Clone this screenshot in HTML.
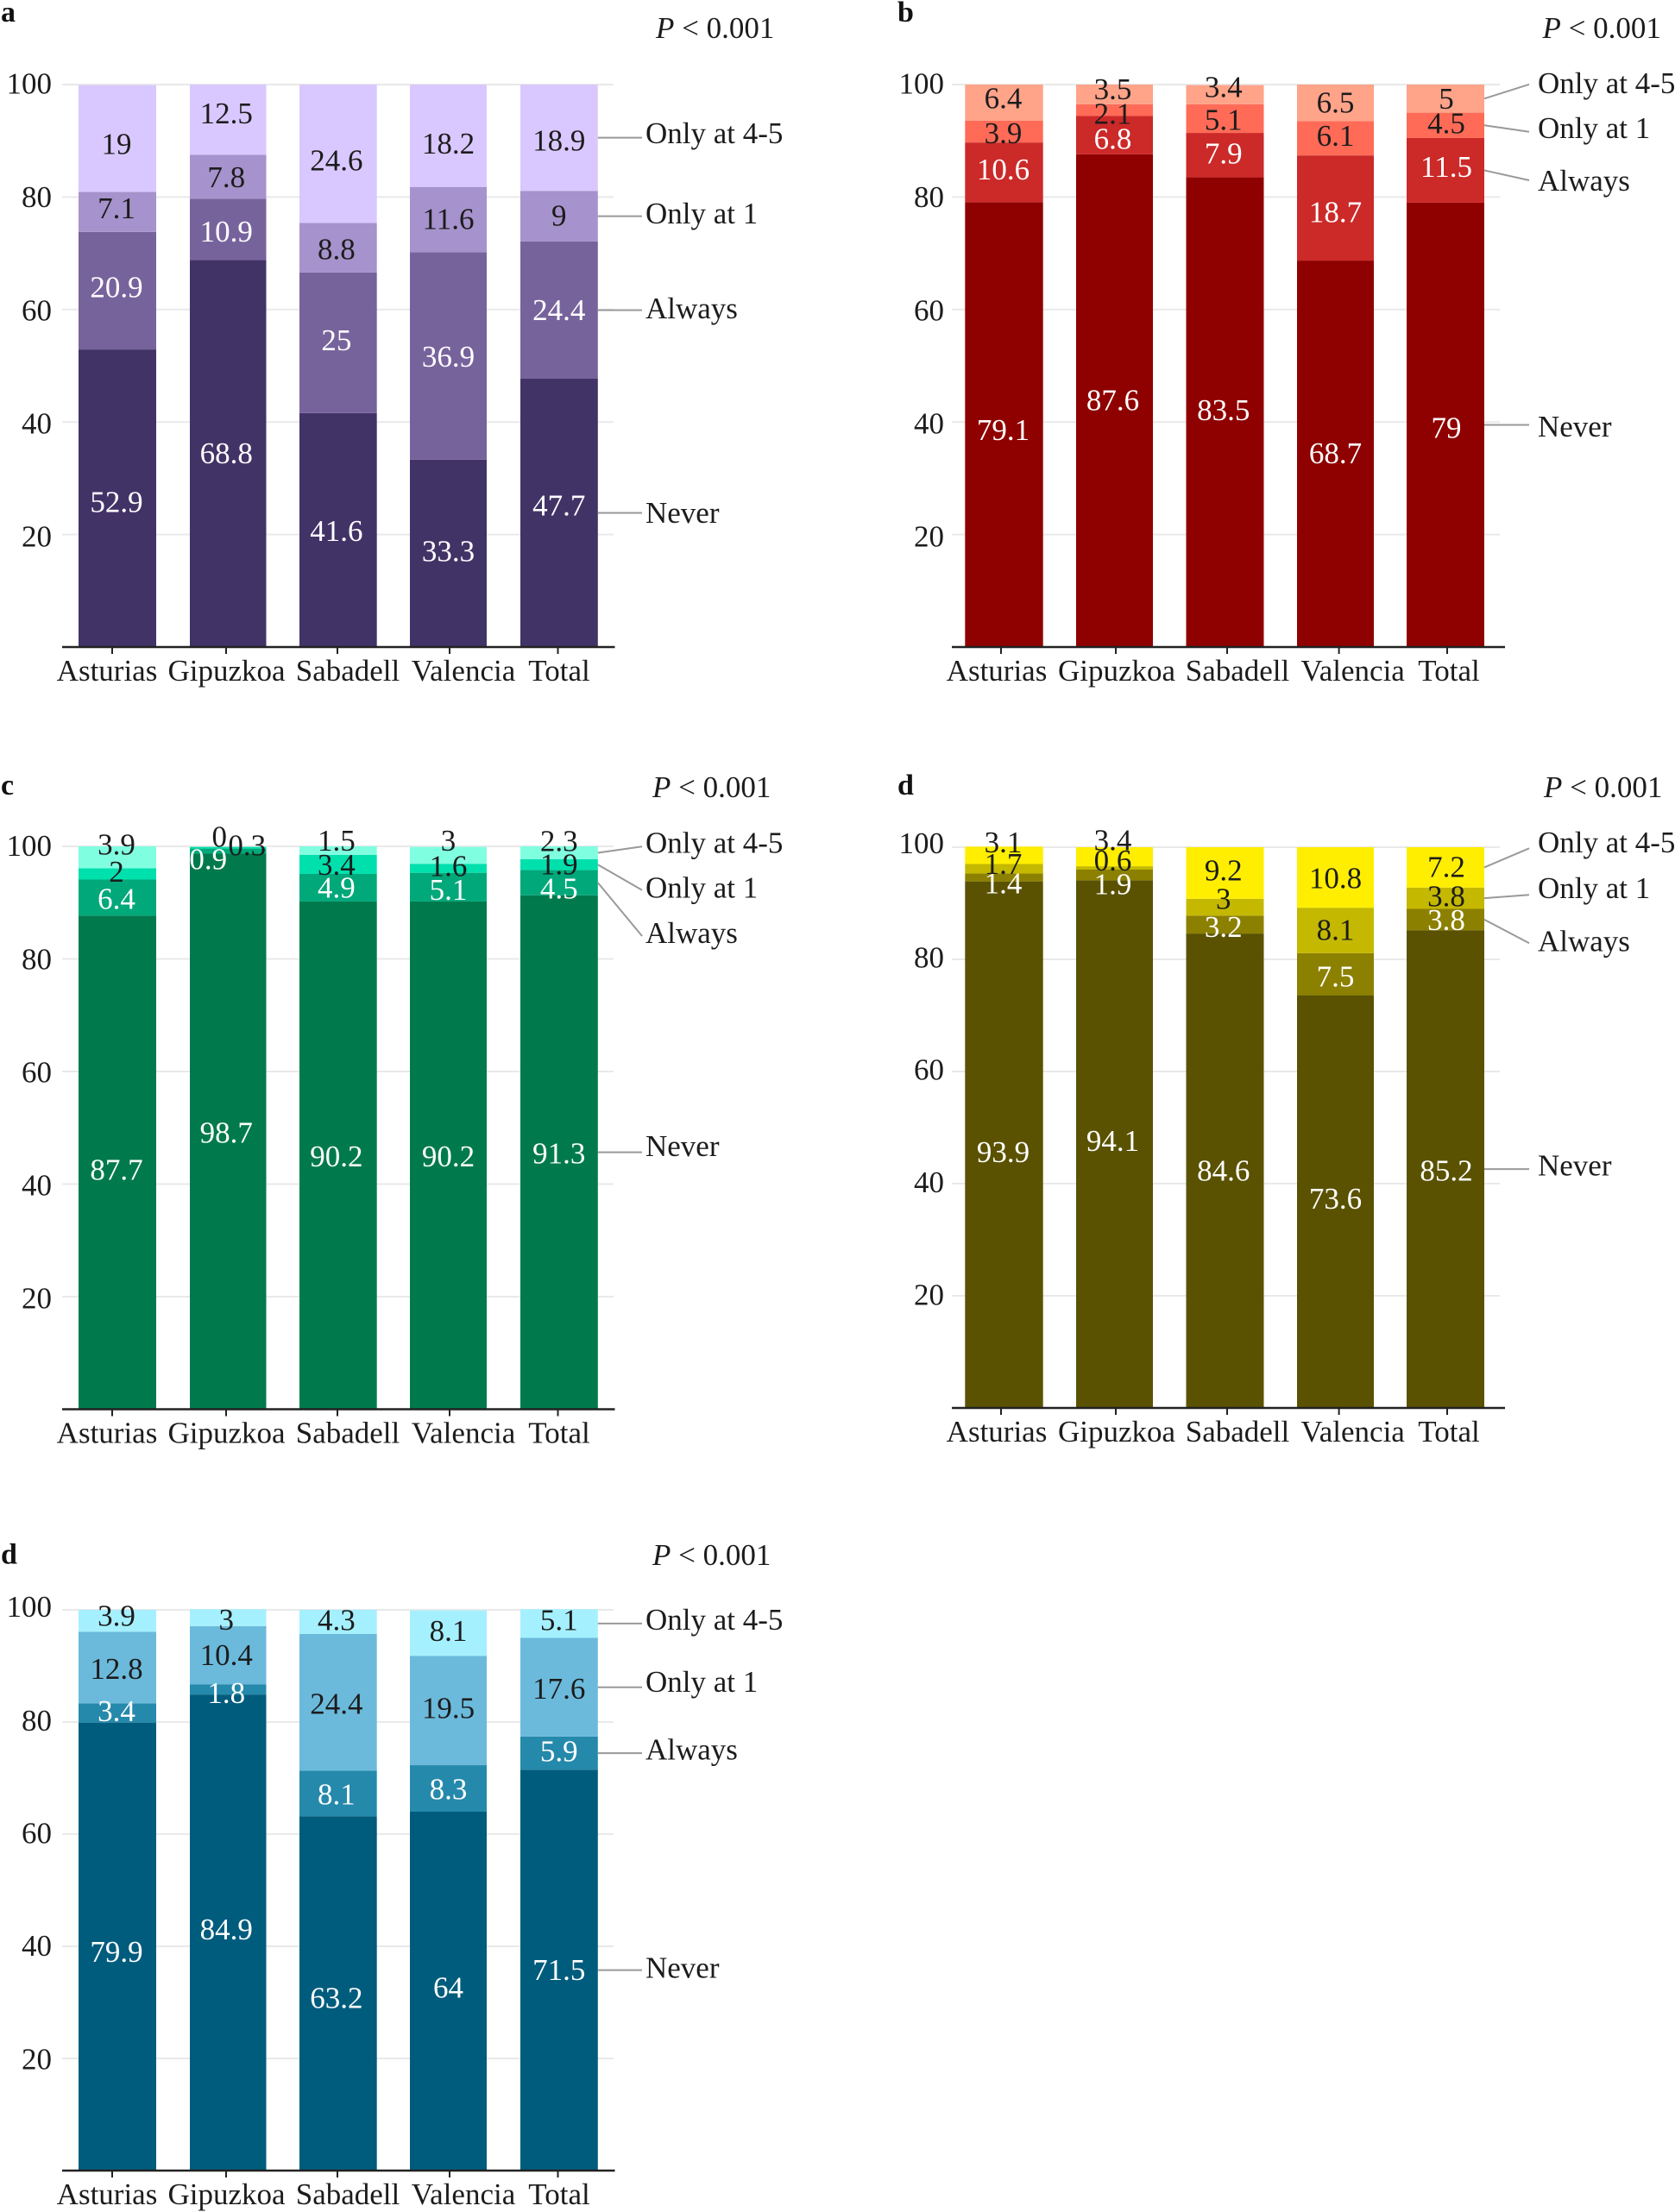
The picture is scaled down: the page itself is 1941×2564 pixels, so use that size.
<!DOCTYPE html>
<html lang="en">
<head>
<meta charset="utf-8">
<title>Stacked bar charts by city</title>
<style>
html,body{margin:0;padding:0;background:#fff;}
svg{display:block;}
text{font-family:"Liberation Serif","Times New Roman",serif;font-size:35px;fill:#1c1c1c;}
</style>
</head>
<body>
<svg id="chart" xmlns="http://www.w3.org/2000/svg" width="1941" height="2564" viewBox="0 0 1941 2564"></svg>
<script>
const categories = ['Asturias','Gipuzkoa','Sabadell','Valencia','Total'];
const seriesNames = ['Never','Always','Only at 1','Only at 4-5'];
const yTicks = [20,40,60,80,100];
const pValueText = '< 0.001';

const aNever = [52.9,68.8,41.6,33.3,47.7];
const aAlways = [20.9,10.9,25,36.9,24.4];
const aOnly1 = [7.1,7.8,8.8,11.6,9];
const aOnly45 = [19,12.5,24.6,18.2,18.9];

const bNever = [79.1,87.6,83.5,68.7,79];
const bAlways = [10.6,6.8,7.9,18.7,11.5];
const bOnly1 = [3.9,2.1,5.1,6.1,4.5];
const bOnly45 = [6.4,3.5,3.4,6.5,5];

const cNever = [87.7,98.7,90.2,90.2,91.3];
const cAlways = [6.4,0.9,4.9,5.1,4.5];
const cOnly1 = [2,0.3,3.4,1.6,1.9];
const cOnly45 = [3.9,0,1.5,3,2.3];

const dNever = [93.9,94.1,84.6,73.6,85.2];
const dAlways = [1.4,1.9,3.2,7.5,3.8];
const dOnly1 = [1.7,0.6,3,8.1,3.8];
const dOnly45 = [3.1,3.4,9.2,10.8,7.2];

const eNever = [79.9,84.9,63.2,64,71.5];
const eAlways = [3.4,1.8,8.1,8.3,5.9];
const eOnly1 = [12.8,10.4,24.4,19.5,17.6];
const eOnly45 = [3.9,3,4.3,8.1,5.1];

/* Label nudges from segment centre (the original moved labels by hand to avoid overlaps) */
const nudgeA = [[4.6,0,1.2,-2.3,-8.7],[-3.8,2.4,-2.9,1.1,0],[-4.1,.6,1.7,-.3,-.6],[6.2,-7.5,8,9,3.6]];
const nudgeB = [[6.3,-.5,-2.4,-.4,3.3],[-3,4.3,-2,4.7,-3.9],[1.9,4.1,1.6,-2.9,-2.5],[-4.9,-5.8,-8.8,0,.2]];
const nudgeC = [[8.5,1.5,1.5,1.5,1.5],[1.4,9.4,0,3.4,6.9],[-2.3,-2.6,.4,-2.4,0],[-14.7,-11.7,-11.6,-16.7,-13.5]];
const nudgeD = [[8.5,-3.7,-.3,-3.5,1.7],[6.8,10.7,3,3,.6],[-5.4,-8.8,-9.5,-.5,-2],[-14.8,-19.1,-2.7,1.1,-.5]];
const nudgeE = [[6.2,-3.6,5.4,-4,0],[-2.1,4.2,1.1,1,-2],[1.6,-.2,1.7,-2.7,1.8],[-5.7,2.4,-2,-2.5,-3.9]];
const nudgeX = {c:{'1,1':-21,'2,1':24,'3,1':-8}};

/* Small per-tick label nudges, in tick order 20,40,60,80,100 */
const tickNudgeAB = [3,2.2,1.8,.8,-.4];
const tickNudgeC = [2.7,2,1.5,1,-.2];
const tickNudgeD = [-.5,-1,-1.5,-1.5,-4];
const tickNudgeE = [1.5,0,-.5,-.8,-3];

const leftBarX = [91,220,347,475,603];
const leftBarW = [90,88.5,89.7,89,89.8];
const rightBarX = [1118.3,1247,1374.5,1503,1630];
const rightBarW = [90.4,89,90,89,90];
const leftLabelDx = [-1,-2,-2,0,-.2];
const rightLabelDx = [-1,-2,-1.7,0,1];
const leftCatCenters = [124,262.5,403,537,648];
const rightCatCenters = [1155,1294,1434,1567.6,1679];
const leftTickX = [130,262,391,521,646.5];
const rightTickX = [1160,1293,1422,1551.6,1677];

const panels = [
 {id:'a',letter:'a',lx:1,ly:25,series:[aNever,aAlways,aOnly1,aOnly45],nudge:nudgeA,tickNudge:tickNudgeAB,
  colors:['#423367','#77639c','#a692cc','#d9c8ff'],top:98,base:750,barX:leftBarX,barW:leftBarW,labelDx:leftLabelDx,axisL:72,axisR:712.5,gridR:711,yLabelX:60,
  cat:leftCatCenters,ticks:leftTickX,px:760,py:44,legendX:748,leaderX:744,legendY:[595,358,248,155],leaderEnd:[null,null,null,null]},
 {id:'b',letter:'b',lx:1040,ly:25,series:[bNever,bAlways,bOnly1,bOnly45],nudge:nudgeB,tickNudge:tickNudgeAB,
  colors:['#8f0000','#cc2929','#ff6b57','#ffa389'],top:98,base:750,barX:rightBarX,barW:rightBarW,labelDx:rightLabelDx,axisL:1103,axisR:1744,gridR:1738,yLabelX:1094,
  cat:rightCatCenters,ticks:rightTickX,px:1787.5,py:44,legendX:1782,leaderX:1772,legendY:[494.8,210.2,149,96.8],leaderEnd:[null,209,152.7,97.8]},
 {id:'c',letter:'c',lx:1,ly:921,series:[cNever,cAlways,cOnly1,cOnly45],nudge:nudgeC,tickNudge:tickNudgeC,
  colors:['#007a4d','#00a87a','#00e0ad','#80ffe0'],top:981,base:1633.5,barX:leftBarX,barW:leftBarW,labelDx:leftLabelDx,axisL:72,axisR:712.5,gridR:711,yLabelX:60,
  cat:leftCatCenters,ticks:leftTickX,px:756,py:924,legendX:748,leaderX:744,legendY:[1329,1082,1029.3,977.3],leaderEnd:[null,1085,1031.7,981.3]},
 {id:'d',letter:'d',lx:1040,ly:921,series:[dNever,dAlways,dOnly1,dOnly45],nudge:nudgeD,tickNudge:tickNudgeD,
  colors:['#5a5200','#8c8000','#c4b800','#ffee00'],top:982,base:1632,barX:rightBarX,barW:rightBarW,labelDx:rightLabelDx,axisL:1103,axisR:1744,gridR:1738,yLabelX:1094,
  cat:rightCatCenters,ticks:rightTickX,px:1789,py:924,legendX:1782,leaderX:1772,legendY:[1351.5,1091.5,1030,977],leaderEnd:[null,1093.3,1037.3,983.3]},
 {id:'e',letter:'d',lx:1,ly:1812.5,series:[eNever,eAlways,eOnly1,eOnly45],nudge:nudgeE,tickNudge:tickNudgeE,
  colors:['#005c7d','#2589ab','#6bbadc','#a5f0ff'],top:1866,base:2516,barX:leftBarX,barW:leftBarW,labelDx:leftLabelDx,axisL:72,axisR:712.5,gridR:711,yLabelX:60,
  cat:leftCatCenters,ticks:leftTickX,px:756,py:1814,legendX:748,leaderX:744,legendY:[2281.5,2028.5,1950,1878],leaderEnd:[null,null,null,null]}
];

const NS = 'http://www.w3.org/2000/svg';
const root = document.getElementById('chart');

function mk(tag, attrs, parent, txt){
  const node = document.createElementNS(NS, tag);
  for (const k in attrs) node.setAttribute(k, attrs[k]);
  if (txt !== undefined) node.textContent = txt;
  parent.appendChild(node);
  return node;
}
function slug(s){ return s.toLowerCase().replace(/[^a-z0-9]+/g,'-'); }

panels.forEach(function(p){
  const y = function(v){ return p.base - (p.base - p.top) * v / 100; };
  const g = mk('g', {}, root);
  
  

  const letter = mk('text', {x:p.lx, y:p.ly, 'font-weight':'bold', style:'font-size:34px;fill:#111'}, g, p.letter);
  
  

  const pv = mk('text', {x:p.px, y:p.py}, g);
  
  
  mk('tspan', {'font-style':'italic'}, pv, 'P');
  mk('tspan', {}, pv, ' ' + pValueText);

  yTicks.forEach(function(t, ti){
    const gl = mk('line', {x1:p.axisL, x2:p.gridR, y1:y(t), y2:y(t), stroke:'#e9e9e9', 'stroke-width':2}, g);
    
    
    const tl = mk('text', {x:p.yLabelX, y:y(t)+11+p.tickNudge[ti], 'text-anchor':'end'}, g, String(t));
    
    
  });

  const labels = [];
  categories.forEach(function(cat, i){
    const left = p.barX[i];
    const w = p.barW[i];
    let cum = 0;
    p.series.forEach(function(vals, s){
      const v = vals[i];
      const r = mk('rect', {x:left, width:w, y:y(cum+v), height:Math.max(0, y(cum)-y(cum+v)), fill:p.colors[s]}, g);
      
      
      const dx = (nudgeX[p.id] && nudgeX[p.id][s + ',' + i]) || 0;
      labels.push({x:left + w/2 + p.labelDx[i] + dx, y:y(cum + v/2) + p.nudge[s][i] + 11.5, v:v, s:s, cat:cat});
      cum += v;
    });
  });

  labels.forEach(function(l){
    const t = mk('text', {x:l.x, y:l.y, 'text-anchor':'middle', style:'fill:' + (l.s < 2 ? '#ffffff' : '#1c1c1c')}, g, String(l.v));
    
    
  });

  const axis = mk('line', {x1:p.axisL, x2:p.axisR, y1:p.base, y2:p.base, stroke:'#222', 'stroke-width':2.5}, g);
  
  

  categories.forEach(function(cat, i){
    const tk = mk('line', {x1:p.ticks[i], x2:p.ticks[i], y1:p.base, y2:p.base+8, stroke:'#222', 'stroke-width':2}, g);
    
    
    const cl = mk('text', {x:p.cat[i], y:p.base+39, 'text-anchor':'middle'}, g, cat);
    
    
  });

  const last = categories.length - 1;
  const barRight = p.barX[last] + p.barW[last];
  let cumLast = 0;
  seriesNames.forEach(function(name, s){
    const v = p.series[s][last];
    const startY = y(cumLast + v/2);
    cumLast += v;
    const endY = p.leaderEnd[s] === null ? startY : p.leaderEnd[s];
    const ld = mk('line', {x1:barRight, y1:startY, x2:p.leaderX, y2:endY, stroke:'#999', 'stroke-width':2}, g);
    
    
    const lt = mk('text', {x:p.legendX, y:p.legendY[s]+11}, g, name);
    
    
  });
});
</script>
</body>
</html>
